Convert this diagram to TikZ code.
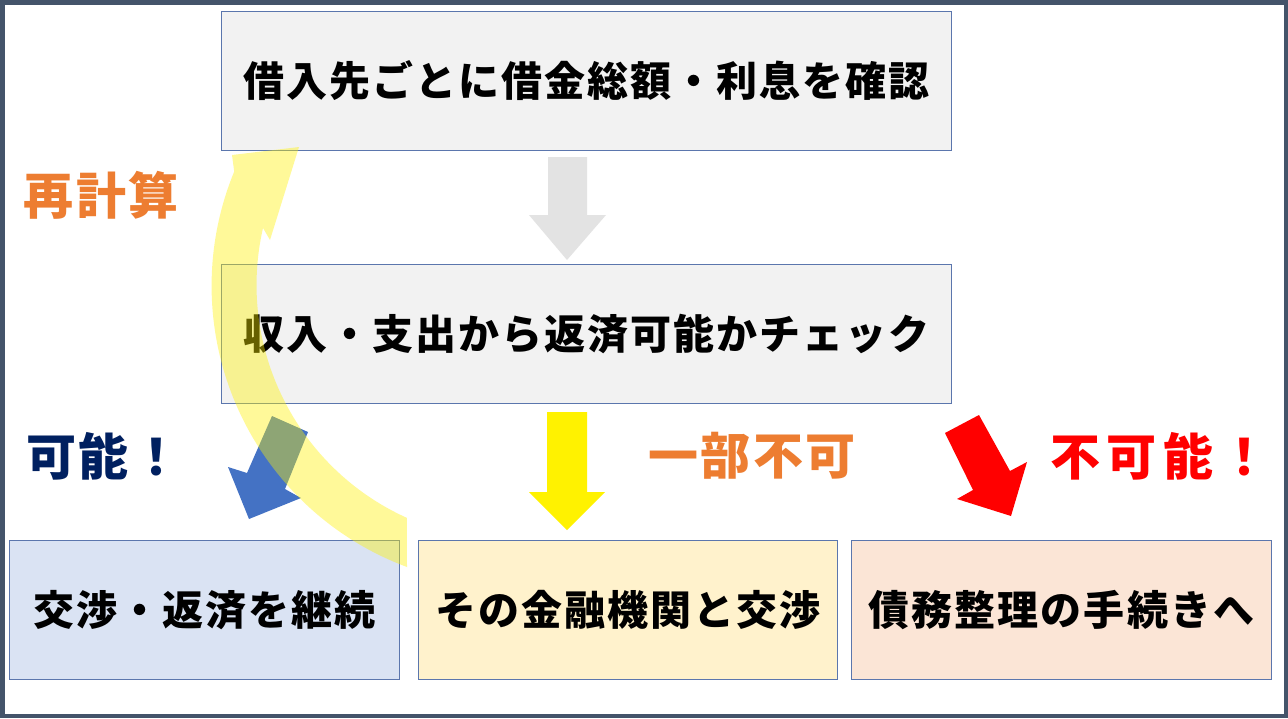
\documentclass[tikz,border=0pt]{standalone}
\usepackage{fontspec}
\setmainfont{Noto Sans CJK JP}
\newfontfamily\jpbox{Noto Sans CJK JP}[LetterSpace=5]
\newfontfamily\jplab{Noto Sans CJK JP}[LetterSpace=5]
\newfontfamily\jplabw{Noto Sans CJK JP}[LetterSpace=13]
\definecolor{frame}{HTML}{44546A}
\definecolor{edge}{HTML}{5B76AD}
\definecolor{boxgrey}{HTML}{F2F2F2}
\definecolor{boxblue}{HTML}{DAE3F3}
\definecolor{boxyel}{HTML}{FFF2CC}
\definecolor{boxpink}{HTML}{FBE5D6}
\definecolor{arrgrey}{HTML}{E3E3E3}
\definecolor{arrblue}{HTML}{4472C4}
\definecolor{labor}{HTML}{ED7D31}
\definecolor{labnavy}{HTML}{002060}
\tikzset{
  stepbox/.style={draw=edge, line width=0.9pt, inner sep=0pt, anchor=north west},
  boxtext/.style={font=\jpbox\bfseries\fontsize{41}{48}\selectfont, text=black},
  labtext/.style={font=\jplab\bfseries\fontsize{50}{56}\selectfont},
}
\begin{document}
\begin{tikzpicture}[x=1pt,y=-1pt]
\useasboundingbox (0,0) rectangle (1288,718);
\fill[white] (0,0) rectangle (1288,718);
\draw[frame, line width=4.5pt] (2.25,2.25) rectangle (1285.75,715.75);

% boxes
\node[stepbox, fill=boxgrey, minimum width=730pt, minimum height=139pt] (b1) at (221,11) {};
\node[boxtext] at (b1.center) {借入先ごとに借金総額・利息を確認};
\node[stepbox, fill=boxgrey, minimum width=730pt, minimum height=139pt] (b2) at (221,264) {};
\node[boxtext] at (b2.center) {収入・支出から返済可能かチェック};
\node[stepbox, fill=boxblue, minimum width=390pt, minimum height=139pt] (b3) at (9,540) {};
\node[boxtext] at (b3.center) {交渉・返済を継続};
\node[stepbox, fill=boxyel, minimum width=419pt, minimum height=139pt] (b4) at (418,540) {};
\node[boxtext] at (b4.center) {その金融機関と交渉};
\node[stepbox, fill=boxpink, minimum width=420pt, minimum height=139pt] (b5) at (851,540) {};
\node[boxtext] at (b5.center) {債務整理の手続きへ};

% labels
\node[labtext, text=labor] (l1) at (101,195) {再計算};
\node[labtext, text=labnavy] (l2) at (104,456) {可能！};
\node[labtext, text=labor] (l3) at (752,456) {一部不可};
\node[labtext, font=\jplabw\bfseries\fontsize{50}{56}\selectfont, text=red] (l4) at (1160,456) {不可能！};

% block arrows
\fill[arrgrey] (548,157) -- (587,157) -- (587,215) -- (606,215) -- (567,260) -- (529,215) -- (548,215) -- cycle;
\fill[yellow] (547,412) -- (587,412) -- (587,492) -- (605,492) -- (567,530) -- (529,492) -- (547,492) -- cycle;
\fill[arrblue] (272,416) -- (308,432) -- (285,489) -- (301,498) -- (249,519) -- (228,467) -- (247,473) -- cycle;
\fill[red] (945,433) -- (979,415) -- (1010,471) -- (1027,462) -- (1011,516) -- (957,499) -- (973,490) -- cycle;

% curved recalculation arrow
\fill[yellow, opacity=0.4] (407,567) arc[start angle=110.4, end angle=202.4, radius=300]
  -- (232,155) -- (299,147) -- (270,240) -- (263,228)
  arc[start angle=192.9, end angle=114.3, radius=255.5] -- cycle;
\end{tikzpicture}
\end{document}
